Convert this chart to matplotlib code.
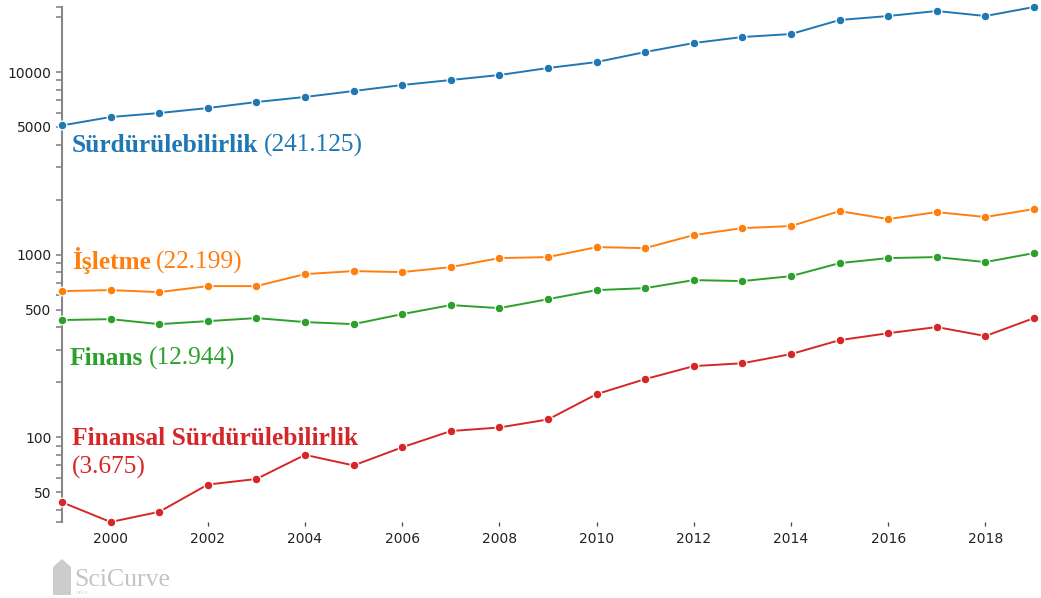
import numpy as np
import matplotlib.pyplot as plt
from matplotlib.patches import Polygon

W, H = 1041, 598

years = list(range(1999, 2020))

# yearly publication counts per subject area
surdurulebilirlik = [5100, 5670, 5960, 6350, 6850, 7300, 7870, 8490, 9040, 9630, 10520,
                     11340, 12870, 14420, 15550, 16150, 19270, 20270, 21590, 20270, 22710]
isletme = [631, 639, 623, 672, 672, 782, 812, 802, 854, 957, 969,
           1099, 1085, 1279, 1397, 1433, 1731, 1565, 1710, 1606, 1776]
finans = [438, 443, 416, 432, 449, 427, 416, 472, 529, 509, 570,
          639, 655, 725, 716, 762, 898, 957, 969, 910, 1019]
finansal_surd = [44, 34.3, 39, 55, 59, 80, 70, 88, 108, 113, 125,
                 172, 208, 245, 254, 285, 340, 371, 401, 358, 449]

series = [surdurulebilirlik, isletme, finans, finansal_surd]
colors = ['#1f77b4', '#ff7f0e', '#2ca02c', '#d62728']

label_names = ['Sürdürülebilirlik', 'İşletme', 'Finans', 'Finansal Sürdürülebilirlik']
label_totals = ['(241.125)', '(22.199)', '(12.944)', '(3.675)']

y_major = [50, 100, 500, 1000, 5000, 10000]

fig = plt.figure(figsize=(W / 100, H / 100), dpi=100)
ax = fig.add_axes([62 / W, (H - 522) / H, (1034 - 62) / W, (522 - 7) / H])

for vals, c in zip(series, colors):
    ax.plot(years, vals, color=c, lw=1.4, marker='o', ms=6.3,
            markeredgecolor='white', markeredgewidth=0.9, clip_on=False, zorder=3)

ymin = min(min(s) for s in series)
ymax = max(max(s) for s in series)
ax.set_yscale('log')
ax.set_xlim(1999, 2019)
ax.set_ylim(ymin, ymax)

# y ticks: every 1-9 multiple plus both ends of the axis, only a few labelled
ticks = [m * 10 ** e for e in range(1, 5) for m in range(1, 10)]
ticks = [ymin] + [v for v in ticks if ymin < v < ymax] + [ymax]
ax.yaxis.set_major_locator(plt.FixedLocator(ticks))
ax.yaxis.set_minor_locator(plt.NullLocator())
ax.set_yticklabels([str(v) if v in y_major else '' for v in ticks])

ax.set_xticks(range(2000, 2019, 2))
ax.set_xticklabels([str(y) for y in range(2000, 2019, 2)])

for s in ['top', 'right', 'bottom']:
    ax.spines[s].set_visible(False)
ax.spines['left'].set_color('#888888')
ax.spines['left'].set_linewidth(1.5)
ax.tick_params(axis='y', length=4.5, width=1.2, color='#888888', labelsize=10,
               labelcolor='#222222', pad=3)
ax.tick_params(axis='x', length=3, width=0.9, color='#444444', labelsize=10,
               labelcolor='#222222', pad=4)

serif = 'Liberation Serif'


def label(x, y, name, total, color, newline=False):
    t = fig.text(x / W, 1 - y / H, name, color=color, fontsize=18.3, fontweight='bold',
                 family=serif, va='baseline', ha='left')
    if newline:
        fig.text(x / W, 1 - (y + 29) / H, total, color=color, fontsize=18.3,
                 family=serif, va='baseline', ha='left')
    else:
        ax.annotate(total, xy=(1, 0), xycoords=t, xytext=(5, 0),
                    textcoords='offset pixels', color=color, fontsize=18.3,
                    family=serif, va='bottom', ha='left')


label(72, 152, label_names[0], label_totals[0], colors[0])
label(72, 269, label_names[1], label_totals[1], colors[1])
label(70, 365, label_names[2], label_totals[2], colors[2])
label(72, 445, label_names[3], label_totals[3], colors[3], newline=True)

# SciCurve watermark
logo = Polygon([(53 / W, 1 - 595 / H), (53 / W, 1 - 567 / H), (62 / W, 1 - 559 / H),
                (71 / W, 1 - 567 / H), (71 / W, 1 - 595 / H)],
               closed=True, transform=fig.transFigure, facecolor='#cccccc',
               edgecolor='none')
fig.patches.append(logo)
fig.text(74 / W, 1 - 586 / H, 'SciCurve', color='#c4c4c4', fontsize=18.5,
         family=serif, va='baseline', ha='left')
fig.text(76 / W, 1 - 594 / H, 'OPEN', color='#cccccc', fontsize=3.5,
         family=serif, va='baseline', ha='left')

fig.savefig('out.png', dpi=100)
